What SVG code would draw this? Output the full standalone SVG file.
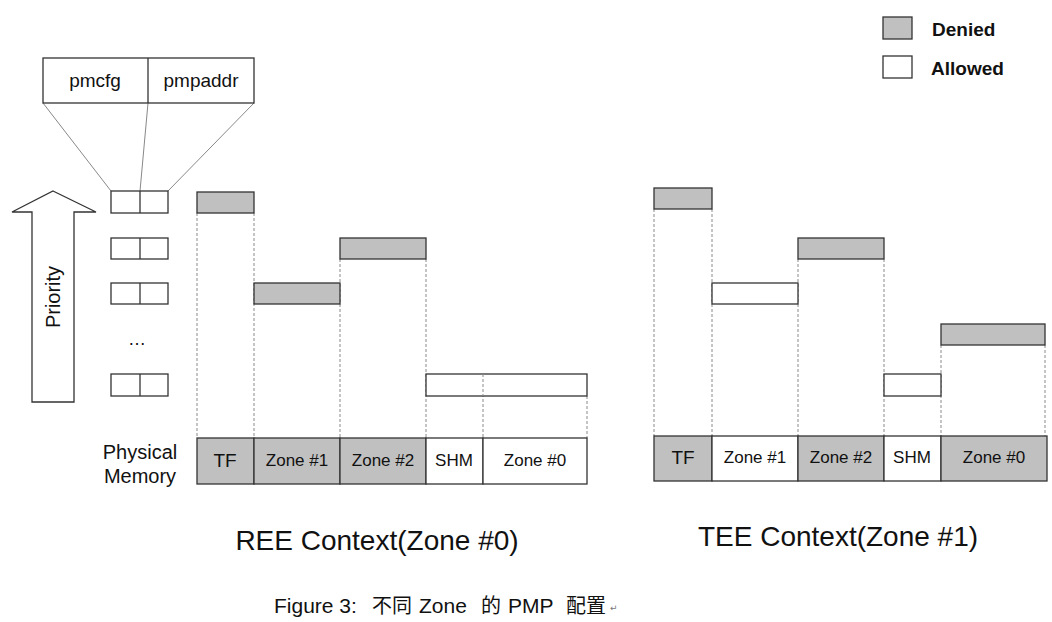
<svg xmlns="http://www.w3.org/2000/svg" width="1052" height="622" viewBox="0 0 1052 622">
<style>
.t{font-family:"Liberation Sans",Arial,sans-serif;fill:#111}
.box{stroke:#333;stroke-width:1.3}
.den{fill:#c0c0c0}
.alw{fill:#fff}
.dash{stroke:#8a8a8a;stroke-width:1;stroke-dasharray:3,2;fill:none}
.fan{stroke:#888;stroke-width:1;fill:none}
.m{font-size:17px;text-anchor:middle}
</style>
<rect width="1052" height="622" fill="#fff"/>

<g id="connectors">
  <line class="fan" x1="43" y1="103" x2="111" y2="191"/>
  <line class="fan" x1="148" y1="103" x2="140" y2="191"/>
  <line class="fan" x1="254" y1="103" x2="168" y2="191"/>
  <line class="dash" x1="197" y1="213" x2="197" y2="438"/>
  <line class="dash" x1="254" y1="213" x2="254" y2="438"/>
  <line class="dash" x1="340" y1="259" x2="340" y2="438"/>
  <line class="dash" x1="426" y1="259" x2="426" y2="438"/>
  <line class="dash" x1="483" y1="374" x2="483" y2="438"/>
  <line class="dash" x1="587" y1="396" x2="587" y2="438"/>
  <line class="dash" x1="654" y1="209" x2="654" y2="436"/>
  <line class="dash" x1="712" y1="209" x2="712" y2="436"/>
  <line class="dash" x1="798" y1="259" x2="798" y2="436"/>
  <line class="dash" x1="884" y1="259" x2="884" y2="436"/>
  <line class="dash" x1="941" y1="345" x2="941" y2="436"/>
  <line class="dash" x1="1045" y1="345" x2="1045" y2="436"/>
</g>

<g id="pmp-entry">
  <rect class="box alw" x="43" y="58" width="211" height="45"/>
  <line class="box" x1="148" y1="58" x2="148" y2="103"/>
  <text class="t" x="95" y="87" font-size="19" text-anchor="middle">pmcfg</text>
  <text class="t" x="201" y="87" font-size="19" text-anchor="middle">pmpaddr</text>
</g>

<g id="pmp-regs">
  <rect class="box alw" x="111" y="191" width="57" height="22"/>
  <line class="box" x1="140" y1="191" x2="140" y2="213"/>
  <rect class="box alw" x="111" y="238" width="57" height="21"/>
  <line class="box" x1="140" y1="238" x2="140" y2="259"/>
  <rect class="box alw" x="111" y="283" width="57" height="21"/>
  <line class="box" x1="140" y1="283" x2="140" y2="304"/>
  <text class="t" x="137" y="345" font-size="18" text-anchor="middle">…</text>
  <rect class="box alw" x="111" y="374" width="57" height="22"/>
  <line class="box" x1="140" y1="374" x2="140" y2="396"/>
</g>

<g id="priority">
  <polygon class="box alw" points="53,191 96,212 74,212 74,402 32,402 32,212 12,212"/>
  <text class="t" transform="translate(60,297) rotate(-90)" font-size="20" text-anchor="middle">Priority</text>
</g>

<g id="physical-memory-label">
  <text class="t" x="140" y="459" font-size="20" text-anchor="middle">Physical</text>
  <text class="t" x="140" y="483" font-size="20" text-anchor="middle">Memory</text>
</g>

<g id="legend">
  <rect class="box den" x="883" y="17" width="29" height="22"/>
  <text class="t" x="932" y="36" font-size="19" font-weight="bold">Denied</text>
  <rect class="box alw" x="883" y="56" width="29" height="22"/>
  <text class="t" x="931" y="75" font-size="19" font-weight="bold">Allowed</text>
</g>

<g id="ree-regions">
  <rect class="box den" x="197" y="192" width="57" height="21"/>
  <rect class="box den" x="254" y="283" width="86" height="21"/>
  <rect class="box den" x="340" y="238" width="86" height="21"/>
  <rect class="box alw" x="426" y="374" width="161" height="22"/>
  <line class="dash" x1="483" y1="374" x2="483" y2="396"/>
</g>

<g id="ree-memory">
  <rect class="box den" x="197" y="438" width="57" height="46"/>
  <rect class="box den" x="254" y="438" width="86" height="46"/>
  <rect class="box den" x="340" y="438" width="86" height="46"/>
  <rect class="box alw" x="426" y="438" width="57" height="46"/>
  <rect class="box alw" x="483" y="438" width="104" height="46"/>
  <text class="t" x="225" y="467" font-size="19" text-anchor="middle">TF</text>
  <text class="t m" x="297" y="466">Zone #1</text>
  <text class="t m" x="383" y="466">Zone #2</text>
  <text class="t m" x="454" y="466">SHM</text>
  <text class="t m" x="535" y="466">Zone #0</text>
</g>

<g id="tee-regions">
  <rect class="box den" x="654" y="188" width="58" height="21"/>
  <rect class="box alw" x="712" y="283" width="86" height="21"/>
  <rect class="box den" x="798" y="238" width="86" height="21"/>
  <rect class="box alw" x="884" y="374" width="57" height="22"/>
  <rect class="box den" x="941" y="324" width="104" height="21"/>
</g>

<g id="tee-memory">
  <rect class="box den" x="654" y="436" width="58" height="45"/>
  <rect class="box alw" x="712" y="436" width="86" height="45"/>
  <rect class="box den" x="798" y="436" width="86" height="45"/>
  <rect class="box alw" x="884" y="436" width="57" height="45"/>
  <rect class="box den" x="941" y="436" width="106" height="45"/>
  <text class="t" x="683" y="464" font-size="19" text-anchor="middle">TF</text>
  <text class="t m" x="755" y="463">Zone #1</text>
  <text class="t m" x="841" y="463">Zone #2</text>
  <text class="t m" x="912" y="463">SHM</text>
  <text class="t m" x="994" y="463">Zone #0</text>
</g>

<g id="captions">
  <text class="t" x="377" y="550" font-size="28" text-anchor="middle">REE Context(Zone #0)</text>
  <text class="t" x="838" y="546" font-size="28" text-anchor="middle">TEE Context(Zone #1)</text>
  <text font-family="'Liberation Sans','Noto Sans CJK SC',sans-serif" font-size="21" fill="#111" y="613"><tspan x="274">Figure 3:</tspan><tspan x="372" font-size="20">不同</tspan><tspan x="419">Zone</tspan><tspan x="481" font-size="20">的</tspan><tspan x="508">PMP</tspan><tspan x="566" font-size="20">配置</tspan></text>
  <text font-family="'Liberation Sans','DejaVu Sans',sans-serif" font-size="9" fill="#777" x="610" y="611">↵</text>
</g>
</svg>
